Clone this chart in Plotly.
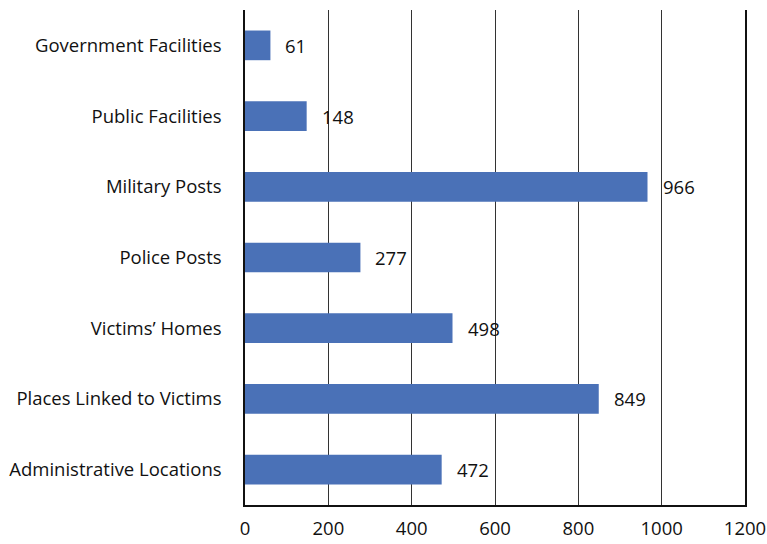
import plotly.graph_objects as go

# Categorias (de arriba a abajo en el grafico)
categories = [
    "Government Facilities",
    "Public Facilities",
    "Military Posts",
    "Police Posts",
    "Victims’ Homes",
    "Places Linked to Victims",
    "Administrative Locations",
]
values = [61, 148, 966, 277, 498, 849, 472]
x_ticks = [0, 200, 400, 600, 800, 1000, 1200]

BAR_COLOR = "#4a71b7"
FONT = "Open Sans"
FSIZE = 18.5

fig = go.Figure()

fig.add_trace(go.Bar(
    x=values, y=categories, orientation="h",
    marker=dict(color=BAR_COLOR, line=dict(width=0)),
    showlegend=False, hoverinfo="x+y",
))

# Etiquetas de valor a la derecha de cada barra
for cat, val in zip(categories, values):
    fig.add_annotation(
        x=val, y=cat, text=str(val), showarrow=False,
        xanchor="left", xshift=13,
        font=dict(family=FONT, size=FSIZE, color="#111111"),
    )

fig.update_layout(
    width=767, height=544,
    margin=dict(l=245, r=22, t=10, b=39, autoexpand=False),
    plot_bgcolor="white",
    paper_bgcolor="white",
    bargap=0.58,
    font=dict(family=FONT, size=FSIZE, color="#111111"),
    xaxis=dict(
        range=[0, 1200], tickvals=x_ticks, showgrid=True,
        gridcolor="#333333", gridwidth=1, zeroline=False,
        showline=True, linecolor="#111111", linewidth=1.5,
        ticks="", ticklabelstandoff=6, fixedrange=True,
        automargin=False,
    ),
    yaxis=dict(
        categoryorder="array", categoryarray=categories[::-1],
        showgrid=False, zeroline=False,
        showline=True, linecolor="#111111", linewidth=1.5,
        mirror=True,
        ticks="", ticklabelstandoff=18, fixedrange=True,
        automargin=False,
    ),
)

# quitar el margen por defecto del body para que el grafico ocupe la ventana
fig.write_html("out.html", config={"displayModeBar": False},
               post_script="document.body.style.margin='0';")
